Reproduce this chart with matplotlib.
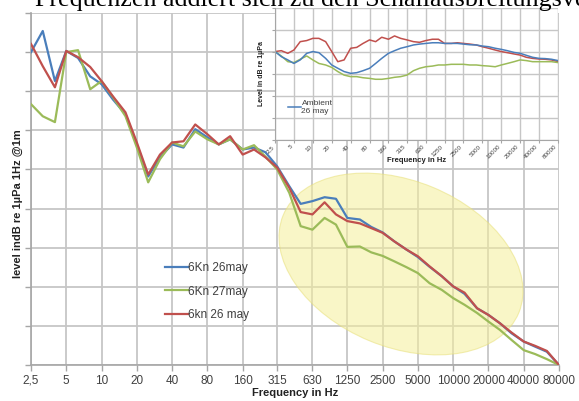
import numpy as np
import matplotlib.pyplot as plt
from matplotlib.patches import Ellipse

plt.rcParams['font.family'] = ['Liberation Sans', 'DejaVu Sans']

# third-octave bands (Hz)
freqs = [2.5, 3.15, 4, 5, 6.3, 8, 10, 12.5, 16, 20, 25, 31.5, 40, 50, 63, 80, 100, 125,
         160, 200, 250, 315, 400, 500, 630, 800, 1000, 1250, 1600, 2000, 2500, 3150, 4000,
         5000, 6300, 8000, 10000, 12500, 16000, 20000, 25000, 31500, 40000, 50000, 63000, 80000]
tick_freqs = [2.5, 5, 10, 20, 40, 80, 160, 315, 630, 1250, 2500, 5000, 10000, 20000, 40000, 80000]
tick_labels = ['2,5', '5', '10', '20', '40', '80', '160', '315', '630', '1250', '2500',
               '5000', '10000', '20000', '40000', '80000']

# main chart, level (arbitrary dB offset)
kn26_blue = [80.0, 85.4, 72.6, 80.3, 78.5, 73.8, 71.8, 67.9, 64.1, 56.4, 48.2, 53.1, 56.4, 55.6,
             60.3, 58.2, 56.4, 57.7, 55.1, 55.6, 54.4, 50.8, 45.7, 41.2, 41.9, 42.9, 42.5, 37.6,
             37.2, 35.3, 33.9, 31.6, 29.5, 27.6, 25.1, 22.7, 20.1, 18.2, 14.5, 12.8, 10.7, 8.1,
             6.0, 4.7, 3.4, 0.0]
kn27_green = [66.7, 63.6, 62.1, 80.0, 80.5, 70.5, 72.6, 68.5, 63.6, 55.6, 46.7, 52.6, 56.9, 55.9,
              59.7, 57.7, 56.4, 57.7, 55.1, 56.2, 53.3, 50.0, 44.0, 35.5, 34.6, 37.6, 35.9, 30.2,
              30.3, 28.8, 27.9, 26.5, 25.0, 23.5, 20.9, 19.2, 17.1, 15.4, 13.3, 11.1, 9.0, 6.4,
              3.8, 2.8, 1.5, 0.0]
kn26_red = [82.1, 76.4, 71.0, 80.3, 78.7, 76.2, 72.6, 68.7, 64.6, 56.9, 48.7, 53.8, 56.9, 57.2,
            61.5, 59.0, 56.4, 58.5, 53.8, 55.1, 53.1, 50.5, 45.3, 39.1, 38.5, 41.6, 38.5, 36.8,
            36.2, 35.0, 33.8, 31.6, 29.5, 27.8, 25.2, 22.7, 20.1, 18.5, 14.5, 12.8, 10.7, 8.3,
            6.0, 4.9, 3.6, 0.0]

# inset chart
amb_red = [40.2, 40.6, 39.4, 40.9, 44.7, 45.2, 46.2, 46.2, 44.7, 40.2, 35.6, 36.4, 41.7, 42.1,
           43.9, 45.5, 44.7, 46.7, 45.8, 47.3, 46.2, 45.5, 44.7, 44.4, 45.2, 45.8, 45.8, 43.9,
           43.9, 44.2, 43.9, 43.6, 43.2, 42.4, 41.7, 40.9, 40.2, 39.7, 39.1, 38.6, 37.6, 37.1,
           36.8, 36.7, 36.4, 35.6]
amb_blue = [40.2, 37.9, 36.4, 34.8, 36.4, 39.4, 40.2, 39.7, 37.1, 34.1, 32.6, 31.1, 30.3, 30.6,
            31.5, 32.6, 34.8, 37.1, 39.4, 40.6, 41.7, 42.4, 43.2, 43.6, 43.9, 44.2, 44.2, 43.9,
            43.9, 43.9, 43.6, 43.3, 43.2, 42.7, 42.4, 41.7, 41.2, 40.6, 39.8, 39.4, 38.5, 37.6,
            37.1, 37.0, 36.7, 36.1]
amb_green = [40.2, 38.2, 35.6, 35.2, 36.7, 38.2, 36.4, 34.8, 34.1, 33.0, 31.1, 29.5, 28.8, 28.8,
             28.3, 28.0, 27.6, 27.6, 28.0, 28.5, 28.8, 29.5, 31.5, 32.6, 33.3, 33.6, 34.1, 34.1,
             34.4, 34.4, 34.4, 34.1, 34.1, 33.8, 33.6, 33.3, 34.1, 34.8, 35.6, 36.4, 36.1, 35.6,
             35.6, 35.6, 35.6, 35.2]

blue = '#4a7ebb'
green = '#9bbb59'
red = '#c0504d'
grid_c = '#c6c6c6'
txt_c = '#404040'

fig = plt.figure(figsize=(5.79, 4.01), dpi=100)
W, H = 579, 401

ax = fig.add_axes([31 / W, 1 - 365 / H, (559 - 31) / W, (365 - 13) / H])
ax.set_xscale('log', base=2)
ax.set_xlim(2.5, 80000)
ax.set_ylim(0, 90)
ax.set_xticks(tick_freqs)
ax.set_xticklabels(tick_labels)
ax.xaxis.set_minor_locator(plt.NullLocator())
ax.set_yticks(np.arange(0, 91, 10))
ax.set_yticklabels([])
ax.grid(True, color=grid_c, lw=1.3)
ax.set_axisbelow(True)
for s in ['top', 'right']:
    ax.spines[s].set_visible(False)
for s in ['left', 'bottom']:
    ax.spines[s].set_color('#a6a6a6')
    ax.spines[s].set_linewidth(1.2)
ax.tick_params(axis='both', color='#a6a6a6', length=4, width=1, labelsize=8.5,
               labelcolor=txt_c, pad=3)

# highlight ellipse (placed in figure inches)
ell = Ellipse(xy=(401 / 100, (H - 264) / 100), width=2.55, height=1.66, angle=-22.5,
              transform=fig.dpi_scale_trans, facecolor='#f5ef9a', edgecolor='#e8e07a',
              lw=0.8, alpha=0.55, zorder=1.5)
ax.add_patch(ell)

ax.plot(freqs, kn26_blue, color=blue, lw=1.6, label='6Kn 26may', zorder=3)
ax.plot(freqs, kn27_green, color=green, lw=1.6, label='6Kn 27may', zorder=3)
ax.plot(freqs, kn26_red, color=red, lw=1.6, label='6kn 26 may', zorder=3)

leg = ax.legend(loc='upper left', bbox_to_anchor=(0.245, 0.305), frameon=False, fontsize=8.5,
                handlelength=1.9, handletextpad=0.05, labelspacing=0.95, borderaxespad=0)
for t in leg.get_texts():
    t.set_color(txt_c)

ax.set_xlabel('Frequency in Hz', fontsize=8, fontweight='bold', color='#222222', labelpad=1)
fig.text(18 / W, 1 - 204 / H, 'level indB re 1µPa 1Hz @1m', rotation=90, fontsize=8,
         fontweight='bold', color='#222222', ha='center', va='center')

# inset
ins = fig.add_axes([275 / W, 1 - 140 / H, (558 - 275) / W, (140 - 8) / H])
ins.set_xscale('log', base=2)
ins.set_xlim(2.5, 80000)
ins.set_ylim(0, 60)
ins.set_xticks(tick_freqs)
ins.set_xticklabels(tick_labels, rotation=45, ha='right', fontsize=4.5, color=txt_c)
ins.xaxis.set_minor_locator(plt.NullLocator())
ins.set_yticks(np.arange(0, 61, 10))
ins.set_yticklabels([])
ins.grid(True, color=grid_c, lw=1.0)
ins.set_axisbelow(True)
for s in ['top', 'right']:
    ins.spines[s].set_visible(False)
for s in ['left', 'bottom']:
    ins.spines[s].set_color('#a6a6a6')
ins.tick_params(axis='both', color='#a6a6a6', length=2, pad=1)
ins.plot(freqs, amb_red, color=red, lw=1.1)
ins.plot(freqs, amb_green, color=green, lw=1.1)
ins.plot(freqs, amb_blue, color=blue, lw=1.1, label='Ambient\n26 may')
il = ins.legend(loc='upper left', bbox_to_anchor=(0.02, 0.36), frameon=False, fontsize=6,
                handlelength=1.5, handletextpad=0.1)
for t in il.get_texts():
    t.set_color(txt_c)
ins.set_xlabel('Frequency in Hz', fontsize=5.5, fontweight='bold', color='#222222', labelpad=-2)
ins.set_ylabel('Level in dB re 1µPa', fontsize=5, fontweight='bold', color='#222222', labelpad=4)

fig.text(35 / W, 1 - 6 / H, 'Frequenzen addiert sich zu den Schallausbreitungsverlusten',
         fontsize=18.7, family='Liberation Serif', va='baseline', ha='left')

fig.savefig('out.png', dpi=100)
